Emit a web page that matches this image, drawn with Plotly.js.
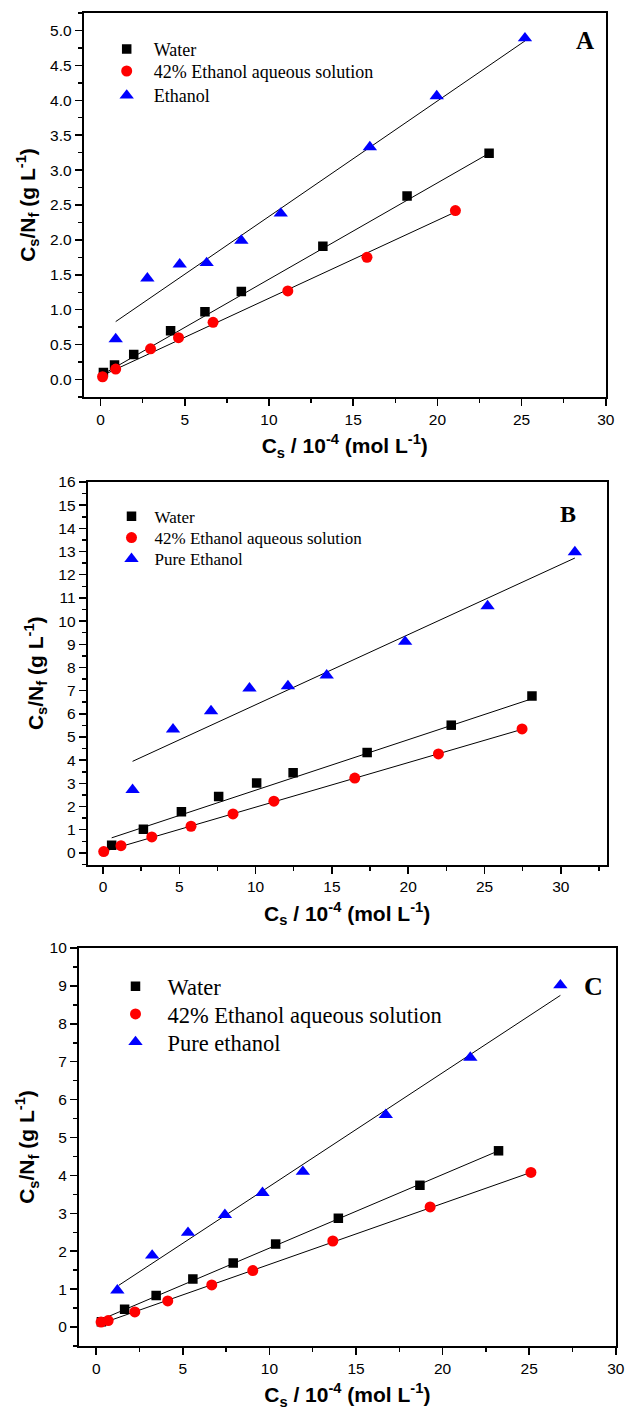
<!DOCTYPE html>
<html>
<head>
<meta charset="utf-8">
<script src="https://cdn.plot.ly/plotly-3.0.1.min.js"></script>
<style>html,body{margin:0;padding:0;background:#fff;}#chart{width:625px;height:1414px;}</style>
</head>
<body>
<div id="chart"></div>
<script>
// ---------- Panel A ----------
const waterA_x = [0.17, 0.83, 1.97, 4.16, 6.2, 8.36, 13.2, 18.2, 23.07];
const waterA_y = [0.10, 0.21, 0.36, 0.70, 0.97, 1.26, 1.91, 2.63, 3.24];
const ethAqA_x = [0.12, 0.9, 2.97, 4.63, 6.68, 11.12, 15.82, 21.07];
const ethAqA_y = [0.04, 0.15, 0.44, 0.60, 0.82, 1.27, 1.75, 2.42];
const ethA_x = [0.9, 2.78, 4.7, 6.3, 8.36, 10.7, 15.99, 19.96, 25.2];
const ethA_y = [0.58, 1.45, 1.65, 1.67, 1.99, 2.38, 3.33, 4.06, 4.89];
const waterFitA_x = [0.17, 23.07], waterFitA_y = [0.08, 3.24];
const ethAqFitA_x = [0.12, 21.07], ethAqFitA_y = [0.06, 2.40];
const ethFitA_x = [0.9, 25.2], ethFitA_y = [0.83, 4.85];

// ---------- Panel B ----------
const waterB_x = [0.57, 2.65, 5.14, 7.58, 10.07, 12.46, 17.31, 22.82, 28.11];
const waterB_y = [0.33, 1.02, 1.78, 2.43, 3.02, 3.46, 4.33, 5.51, 6.77];
const ethAqB_x = [0.05, 1.18, 3.2, 5.77, 8.52, 11.2, 16.5, 21.98, 27.46];
const ethAqB_y = [0.06, 0.31, 0.69, 1.15, 1.68, 2.23, 3.23, 4.27, 5.35];
const ethB_x = [1.94, 4.59, 7.08, 9.6, 12.12, 14.66, 19.8, 25.2, 30.92];
const ethB_y = [2.72, 5.33, 6.12, 7.1, 7.2, 7.66, 9.11, 10.65, 12.98];
const waterFitB_x = [0.57, 28.11], waterFitB_y = [0.65, 6.65];
const ethAqFitB_x = [0.05, 27.46], ethAqFitB_y = [0.06, 5.33];
const ethFitB_x = [1.94, 30.92], ethFitB_y = [3.95, 12.72];

// ---------- Panel C ----------
const waterC_x = [0.3, 1.64, 3.46, 5.58, 7.91, 10.36, 13.98, 18.69, 23.23];
const waterC_y = [0.14, 0.47, 0.83, 1.27, 1.69, 2.19, 2.87, 3.74, 4.65];
const ethAqC_x = [0.28, 0.69, 2.23, 4.13, 6.67, 9.04, 13.66, 19.28, 25.1];
const ethAqC_y = [0.13, 0.17, 0.40, 0.69, 1.11, 1.49, 2.27, 3.17, 4.08];
const ethC_x = [1.22, 3.23, 5.3, 7.43, 9.6, 11.93, 16.72, 21.6, 26.8];
const ethC_y = [0.97, 1.89, 2.49, 2.96, 3.54, 4.1, 5.6, 7.11, 9.02];
const waterFitC_x = [0.3, 23.23], waterFitC_y = [0.2, 4.65];
const ethAqFitC_x = [0.28, 25.1], ethAqFitC_y = [0.09, 4.08];
const ethFitC_x = [1.3, 26.8], ethFitC_y = [1.1, 8.75];

// ---------- Labels ----------
const namesA = ['Water', '42% Ethanol aqueous solution', 'Ethanol'];
const namesB = ['Water', '42% Ethanol aqueous solution', 'Pure Ethanol'];
const namesC = ['Water', '42% Ethanol aqueous solution', 'Pure ethanol'];
const panelLetters = ['A', 'B', 'C'];
const xTitle = 'C<sub>s</sub> / 10<sup>-4</sup> (mol L<sup>-1</sup>)';
const yTitle = 'C<sub>s</sub>/N<sub>f</sub> (g L<sup>-1</sup>)';

// ---------- Geometry helpers ----------
const W = 625, H = 1414;
const px = v => v / W;
const py = v => 1 - v / H;

const sty = [
  {symbol: 'square', color: '#000000', size: 9.5},
  {symbol: 'circle', color: '#ff0000', size: 11},
  {symbol: 'triangle-up', color: '#0000ff', size: 12.5}
];

const panels = [
  {xs: [waterA_x, ethAqA_x, ethA_x], ys: [waterA_y, ethAqA_y, ethA_y],
   fx: [waterFitA_x, ethAqFitA_x, ethFitA_x], fy: [waterFitA_y, ethAqFitA_y, ethFitA_y],
   names: namesA, leg: {x: 126.7, rows: [49.3, 71.3, 95.7], gap: 27, fs: 18}},
  {xs: [waterB_x, ethAqB_x, ethB_x], ys: [waterB_y, ethAqB_y, ethB_y],
   fx: [waterFitB_x, ethAqFitB_x, ethFitB_x], fy: [waterFitB_y, ethAqFitB_y, ethFitB_y],
   names: namesB, leg: {x: 131.5, rows: [516.7, 538, 559.3], gap: 23, fs: 17}},
  {xs: [waterC_x, ethAqC_x, ethC_x], ys: [waterC_y, ethAqC_y, ethC_y],
   fx: [waterFitC_x, ethAqFitC_x, ethFitC_x], fy: [waterFitC_y, ethAqFitC_y, ethFitC_y],
   names: namesC, leg: {x: 135.5, rows: [986.7, 1014.3, 1042.3], gap: 32, fs: 22.5}}
];

const traces = [];
const layout = {
  width: W, height: H,
  margin: {l: 0, r: 0, t: 0, b: 0},
  paper_bgcolor: '#ffffff', plot_bgcolor: '#ffffff',
  font: {family: 'Liberation Sans, Arial, sans-serif', color: '#000000'},
  annotations: []
};

const frames = [
  {x: [83.7, 605.8], y: [13, 397], xr: [-1, 30], yr: [-0.25, 5.25], ydt: 0.5, ymin: 0.25, yfmt: '.1f'},
  {x: [87.7, 606.6], y: [482, 864.5], xr: [-1, 33], yr: [-0.5, 16], ydt: 1, ymin: 0.5, yfmt: 'd'},
  {x: [78.9, 615.8], y: [948, 1346], xr: [-1, 30], yr: [-0.5, 10], ydt: 1, ymin: 0.5, yfmt: 'd'}
];
const letterPos = [[584.7, 41, 25], [568, 514, 24], [593, 986.7, 26]];

let legN = 1;
panels.forEach((p, i) => {
  const xa = i === 0 ? 'x' : 'x' + (i + 1);
  const ya = i === 0 ? 'y' : 'y' + (i + 1);
  // fit lines
  for (let k = 0; k < 3; k++) {
    traces.push({x: p.fx[k], y: p.fy[k], xaxis: xa, yaxis: ya, mode: 'lines',
      line: {color: '#000000', width: 1}, showlegend: false, hoverinfo: 'skip'});
  }
  // markers (order: water, ethanol, 42%) so red sits above black
  [0, 2, 1].forEach(k => {
    const legKey = legN === 1 ? 'legend' : 'legend' + legN;
    legN++;
    traces.push({x: p.xs[k], y: p.ys[k], xaxis: xa, yaxis: ya, mode: 'markers',
      name: p.names[k], legend: legKey,
      marker: {symbol: sty[k].symbol, color: sty[k].color, size: sty[k].size, line: {width: 0}}});
    const iw = Math.max(30, (p.leg.gap - 5) * 2);
    layout[legKey] = {
      x: px(p.leg.x - (iw / 2 + 5)), xanchor: 'left',
      y: py(p.leg.rows[k]), yanchor: 'middle',
      bgcolor: 'rgba(0,0,0,0)', borderwidth: 0,
      itemwidth: iw, tracegroupgap: 0,
      font: {family: 'Liberation Serif, Times New Roman, serif', size: p.leg.fs, color: '#000000'}
    };
  });

  const f = frames[i];
  const common = {
    showline: true, linewidth: 2, linecolor: '#000000', mirror: true,
    ticks: 'outside', ticklen: 7, tickwidth: 1.5, tickcolor: '#000000',
    showgrid: false, zeroline: false,
    tickfont: {family: 'Liberation Sans, Arial, sans-serif', size: 15.5, color: '#000000'}
  };
  layout['xaxis' + (i === 0 ? '' : i + 1)] = Object.assign({}, common, {
    domain: [px(f.x[0]), px(f.x[1])], anchor: ya, range: f.xr,
    tickmode: 'linear', tick0: 0, dtick: 5,
    minor: {tick0: 0, dtick: 2.5, ticks: 'outside', ticklen: 4, tickwidth: 1.5, tickcolor: '#000000', showgrid: false},
    title: {text: xTitle, standoff: 12, font: {family: 'Liberation Sans, Arial, sans-serif', size: 21, weight: 'bold', color: '#000000'}}
  });
  layout['yaxis' + (i === 0 ? '' : i + 1)] = Object.assign({}, common, {
    domain: [py(f.y[1]), py(f.y[0])], anchor: xa, range: f.yr,
    tickmode: 'linear', tick0: 0, dtick: f.ydt, tickformat: f.yfmt,
    minor: {tick0: 0, dtick: f.ymin, ticks: 'outside', ticklen: 4, tickwidth: 1.5, tickcolor: '#000000', showgrid: false},
    title: {text: yTitle, standoff: 9, font: {family: 'Liberation Sans, Arial, sans-serif', size: 21, weight: 'bold', color: '#000000'}}
  });

  const lp = letterPos[i];
  layout.annotations.push({xref: 'paper', yref: 'paper', x: px(lp[0]), y: py(lp[1]),
    xanchor: 'center', yanchor: 'middle', showarrow: false, text: '<b>' + panelLetters[i] + '</b>',
    font: {family: 'Liberation Serif, Times New Roman, serif', size: lp[2], color: '#000000'}});
});

Plotly.newPlot('chart', traces, layout, {staticPlot: true, displayModeBar: false});
</script>
</body>
</html>
